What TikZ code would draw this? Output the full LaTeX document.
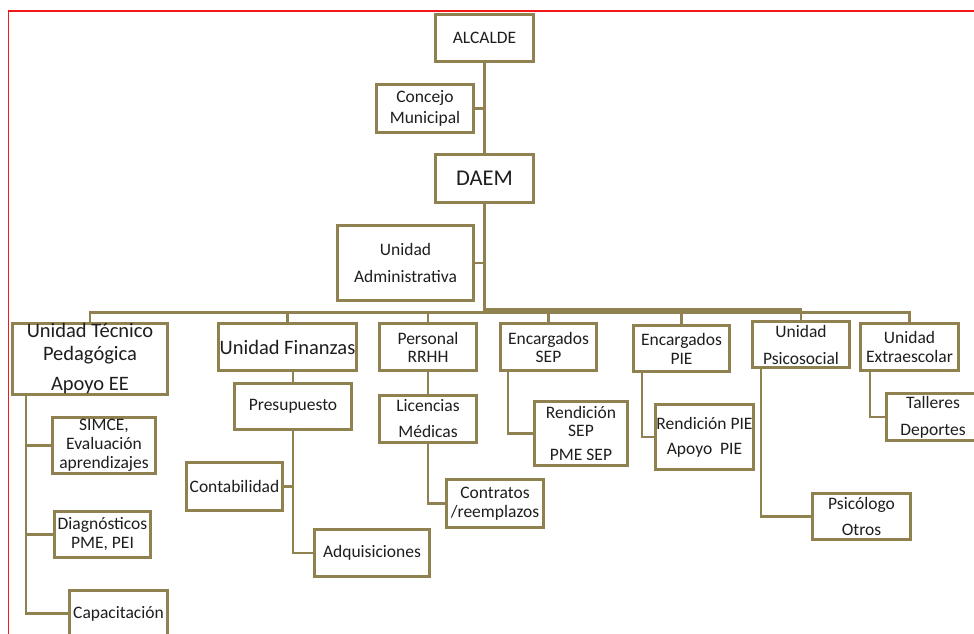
\documentclass[tikz,border=0pt]{standalone}
\usepackage{fontspec}
\setmainfont{Carlito}
\definecolor{orgline}{HTML}{8F8150}
\definecolor{orgtext}{HTML}{1E1E1E}
\definecolor{framered}{HTML}{F01818}
\tikzset{
  orgbox/.style={draw=orgline, line width=2.8pt, fill=white, inner sep=0pt,
    align=center, text=orgtext, font=\fontsize{17.5}{19}\selectfont},
  bigtext/.style={font=\fontsize{20.5}{23}\selectfont},
  link/.style={draw=orgline, line width=2.8pt},
}
\begin{document}
\begin{tikzpicture}[x=1pt, y=-1pt]
\clip (0,0) rectangle (974,634);
\fill[white] (0,0) rectangle (974,634);

% outer frame (top and left edges)
\draw[framered, line width=1.3pt] (974,11) -- (8.5,11) -- (8.5,634);

% top of the hierarchy
\node[orgbox, minimum width=98pt, minimum height=47pt] (alc) at (484.5,38) {ALCALDE};
\node[orgbox, minimum width=97pt, minimum height=48pt] (con) at (425,108.5) {Concejo\\[2pt]Municipal};
\node[orgbox, minimum width=98pt, minimum height=48pt, font=\fontsize{22.5}{24}\selectfont] (daem) at (484.5,178.5) {DAEM};
\node[orgbox, minimum width=136pt, minimum height=75pt] (uadm) at (405.5,263) {Unidad\\[8pt]Administrativa};
\coordinate (hub) at (484.5,310);

% units
\node[orgbox, bigtext, minimum width=155pt, minimum height=71pt] (utp) at (90,359) {Unidad Técnico\\Pedagógica\\[7pt]Apoyo EE};
\node[orgbox, bigtext, minimum width=138pt, minimum height=47pt] (fin) at (287.5,347) {Unidad Finanzas};
\node[orgbox, minimum width=97pt, minimum height=47pt] (rrhh) at (428,347) {Personal\\[-1pt]RRHH};
\node[orgbox, minimum width=96pt, minimum height=47pt] (sep) at (548.5,347) {Encargados\\[-1pt]SEP};
\node[orgbox, minimum width=96pt, minimum height=46pt] (pie) at (681.5,348.5) {Encargados\\PIE};
\node[orgbox, minimum width=97pt, minimum height=46pt] (psi) at (801,344.5) {Unidad\\[8pt]Psicosocial};
\node[orgbox, minimum width=98pt, minimum height=47pt] (ext) at (909.5,347) {Unidad\\Extraescolar};

% sub-units
\node[orgbox, minimum width=103pt, minimum height=56pt] (simce) at (104,445.5) {SIMCE,\\Evaluación\\aprendizajes};
\node[orgbox, minimum width=96pt, minimum height=46pt] (diag) at (102.5,534.5) {Diagnósticos\\PME, PEI};
\node[orgbox, minimum width=98pt, minimum height=46pt] (cap) at (118.5,613.5) {Capacitación};
\node[orgbox, minimum width=117pt, minimum height=46pt] (pres) at (293,406.5) {Presupuesto};
\node[orgbox, minimum width=96pt, minimum height=48pt] (cont) at (234.5,486.5) {Contabilidad};
\node[orgbox, minimum width=115pt, minimum height=47pt] (adq) at (372,553) {Adquisiciones};
\node[orgbox, minimum width=97pt, minimum height=47pt] (lic) at (428,419) {Licencias\\[7pt]Médicas};
\node[orgbox, minimum width=97pt, minimum height=48pt] (contr) at (495,503.5) {Contratos\\/reemplazos};
\node[orgbox, minimum width=93pt, minimum height=64pt] (rsep) at (581,433.5) {Rendición\\[-1pt]SEP\\[5pt]PME SEP};
\node[orgbox, minimum width=98pt, minimum height=65pt] (rpie) at (704.5,437) {Rendición PIE\\[6pt]Apoyo\ \ PIE};
\node[orgbox, minimum width=98pt, minimum height=46pt] (psic) at (861.5,516.5) {Psicólogo\\[7pt]Otros};
\node[orgbox, minimum width=93pt, minimum height=47pt] (tall) at (933,417) {Talleres\\[8pt]Deportes};

% main trunk
\draw[link] (alc.south) -- (daem.north);
\draw[link] (con.east) -- (con.east -| alc.south);
\draw[link] (daem.south) -- (hub);
\draw[link] (uadm.east) -- (uadm.east -| daem.south);

% bus to the units
\draw[link] (hub) |- ([yshift=10pt]utp.north) -- (utp.north);
\draw[link] (hub) |- ([yshift=10pt]fin.north) -- (fin.north);
\draw[link] (hub) |- ([yshift=10pt]rrhh.north) -- (rrhh.north);
\draw[link] (hub) |- ([yshift=10pt]sep.north) -- (sep.north);
\draw[link] (hub) |- ([yshift=12pt]pie.north) -- (pie.north);
\draw[link] (hub) |- ([yshift=11pt]psi.north) -- (psi.north);
\draw[link] (hub) |- ([yshift=10pt]ext.north) -- (ext.north);

% sub-unit links
\draw[link] ([xshift=-64pt]utp.south) |- (simce.west);
\draw[link] ([xshift=-64pt]utp.south) |- (diag.west);
\draw[link] ([xshift=-64pt]utp.south) |- (cap.west);
\draw[link] (pres.north |- fin.south) -- (pres.north);
\draw[link] (pres.south) |- (cont.east);
\draw[link] (pres.south) |- (adq.west);
\draw[link] (rrhh.south) -- (lic.north);
\draw[link] (lic.south) |- (contr.west);
\draw[link] ([xshift=-40.5pt]sep.south) |- (rsep.west);
\draw[link] ([xshift=-39.5pt]pie.south) |- (rpie.west);
\draw[link] ([xshift=-40pt]psi.south) |- (psic.west);
\draw[link] ([xshift=-39.5pt]ext.south) |- (tall.west);
\end{tikzpicture}
\end{document}
